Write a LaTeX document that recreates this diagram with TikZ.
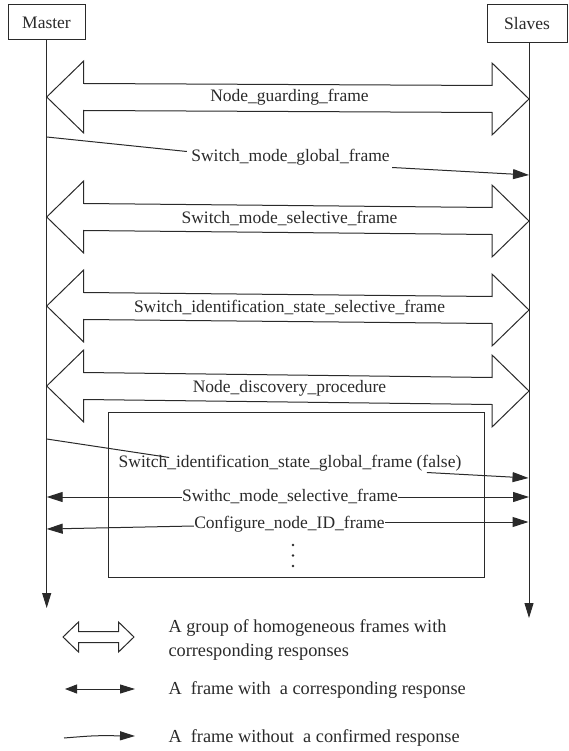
\documentclass[tikz,border=0pt]{standalone}
\usepackage{fontspec}
\setmainfont{Liberation Serif}
\usetikzlibrary{arrows.meta,calc}
\definecolor{ink}{HTML}{2A2A2A}

% hollow double-headed arrow between two tips:
% #1 left tip, #2 right tip, #3 head length, #4 head half-width, #5 shaft half-width
\newcommand{\fatarrow}[5]{%
  \draw[fat] (#1) -- ($(#1)+(#3,-#4)$) -- ($(#1)+(#3,-#5)$)
    -- ($(#2)+(-#3,-#5)$) -- ($(#2)+(-#3,-#4)$) -- (#2)
    -- ($(#2)+(-#3,#4)$) -- ($(#2)+(-#3,#5)$)
    -- ($(#1)+(#3,#5)$) -- ($(#1)+(#3,#4)$) -- cycle;}

\begin{document}
\begin{tikzpicture}[x=1pt,y=-1pt,color=ink,line width=1pt,
  actor/.style={draw,fill=white,inner sep=0pt,font=\fontsize{17.5}{20}\selectfont},
  lbl/.style={inner sep=0pt,text height=12pt,text depth=4pt,font=\fontsize{17.5}{20}\selectfont},
  legtxt/.style={inner sep=0pt,anchor=west,text height=13pt,text depth=4pt,font=\fontsize{18.3}{22}\selectfont},
  fat/.style={line width=1pt,line join=miter},
  lifetip/.style={-{Triangle[length=15pt,width=9pt]}},
  msgtip/.style={-{Triangle[length=16pt,width=10pt]}},
  bothtips/.style={{Triangle[length=12pt,width=9pt]}-{Triangle[length=15pt,width=9pt]}},
  onetip/.style={-{Triangle[length=15pt,width=9pt]}}]

\useasboundingbox (0,0) rectangle (568,751);

% participants and lifelines
\node[actor,minimum width=77pt,minimum height=35pt] (master) at (46.5,22.5) {Master};
\node[actor,minimum width=80pt,minimum height=38pt] (slaves) at (527,24) {Slaves};
\coordinate (mtop) at (46.7,40);
\coordinate (mend) at (46.7,608);
\coordinate (stop) at (529,43);
\coordinate (send) at (529,618);
\draw[lifetip] (mtop) -- (mend);
\draw[lifetip] (stop) -- (send);

% Node_guarding_frame
\coordinate (a1l) at (46.7,97);
\coordinate (a1r) at (529,99);
\fatarrow{a1l}{a1r}{37}{36}{13.5}
\node[lbl] (a1) at (289.5,98) {Node\_guarding\_frame};

% Switch_mode_global_frame (no confirmed response)
\node[lbl] (gl) at (290.5,158) {Switch\_mode\_global\_frame};
\coordinate (glm) at (46.7,137);
\coordinate (gls) at (529,175);
\draw (glm) -- ($(gl.north west)+(-4,2)$);
\draw[msgtip] ($(gl.south east)+(2,1)$) -- (gls);

% Switch_mode_selective_frame
\coordinate (a2l) at (46.7,217);
\coordinate (a2r) at (529,221);
\fatarrow{a2l}{a2r}{37}{36}{13.5}
\node[lbl] (a2) at (289.5,219) {Switch\_mode\_selective\_frame};

% Switch_identification_state_selective_frame
\coordinate (a3l) at (46.7,306);
\coordinate (a3r) at (529,310);
\fatarrow{a3l}{a3r}{37}{36}{13.5}
\node[lbl] (a3) at (289.5,308) {Switch\_identification\_state\_selective\_frame};

% Node_discovery_procedure
\coordinate (a4l) at (46.7,386);
\coordinate (a4r) at (529,391);
\fatarrow{a4l}{a4r}{37}{36}{13.5}
\node[lbl] (a4) at (289.5,388.5) {Node\_discovery\_procedure};

% expanded discovery procedure
\node[draw,inner sep=0pt,minimum width=376.3pt,minimum height=165.5pt] (grp) at (296.45,494.75) {};

\node[lbl] (gi) at (290,463) {Switch\_identification\_state\_global\_frame (false)};
\coordinate (gim) at (46.7,439);
\coordinate (gis) at (528.5,478);
\draw (gim) -- ($(gi.north west)+(51,3)$);
\draw[msgtip] ($(gi.south east)+(-35,1)$) -- (gis);

\node[lbl] (sw) at (290,497) {Swithc\_mode\_selective\_frame};
\draw[msgtip] (sw.west) -- (sw.west -| mtop);
\draw[msgtip] (sw.east) -- (sw.east -| stop);

\node[lbl] (cf) at (289.5,524) {Configure\_node\_ID\_frame};
\coordinate (cfm) at (46.7,529);
\coordinate (cfs) at (528.5,522);
\draw[msgtip] ($(cf.west)+(0,2)$) -- (cfm);
\draw[msgtip] ($(cf.east)+(0,-2)$) -- (cfs);

\foreach \yy in {545,555.5,566} \fill (293,\yy) circle (1.3pt);

% legend
\coordinate (h1) at (63,637);
\coordinate (h2) at (134,637);
\fatarrow{h1}{h2}{15.5}{15}{5.5}
\node[legtxt] (t1) at (168,628) {A group of homogeneous frames with};
\node[legtxt] (t2) at (168,652) {corresponding responses};

\coordinate (d1) at (65,689);
\coordinate (d2) at (135,689);
\draw[bothtips] (d1) -- (d2);
\node[legtxt] (t3) at (168,690) {A~~frame with~~a corresponding response};

\coordinate (s1) at (64,738);
\coordinate (s2) at (135,736);
\draw[onetip] (s1) .. controls (95,735.5) .. (s2);
\node[legtxt] (t4) at (168,738) {A~~frame without~~a confirmed response};
\end{tikzpicture}
\end{document}
